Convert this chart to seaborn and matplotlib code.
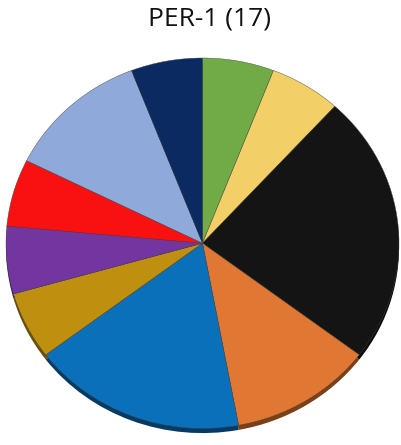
import matplotlib
matplotlib.use("Agg")
import matplotlib.pyplot as plt
import seaborn as sns
import pandas as pd

categories = ["Green", "Yellow", "Black", "Orange", "Blue", "Gold", "Purple", "Red", "Light blue", "Navy"]
counts = [1, 1, 4, 2, 3, 1, 1, 1, 2, 1]
colors = ["#70AB46", "#F3CF68", "#141414", "#E07833", "#0A70BA", "#BF9010", "#7335A0", "#F91010", "#8FAADA", "#0B2A62"]
shadow_colors = ["#3E6227", "#8A7538", "#0A0A0A", "#7A4018", "#053A64", "#6A500A", "#3E1C58", "#8A0808", "#4E6078", "#061630"]
title = "PER-1 (17)"

sns.set_theme(style="white")
plt.rcParams['font.family'] = ['Open Sans', 'DejaVu Sans']

df = pd.DataFrame({"category": categories, "count": counts, "color": colors, "shadow": shadow_colors})

fig = plt.figure(figsize=(4.01, 4.45), dpi=100)
W, H = 401, 445
left, right, top, bottom = 6, 399, 58, 434
ax = fig.add_axes([left / W, 1 - bottom / H, (right - left) / W, (bottom - top) / H])

# shadow edge (slightly offset)
ax.pie(df["count"], colors=df["shadow"], startangle=90, counterclock=False,
       center=(0, -0.025), radius=1.0, wedgeprops=dict(linewidth=0))
ax.pie(df["count"], colors=df["color"], startangle=90, counterclock=False,
       center=(0, 0), radius=1.0, wedgeprops=dict(linewidth=0.3, edgecolor="#444444"))
ax.set_aspect("auto")
ax.set_xlim(-1.0, 1.0)
ax.set_ylim(-1.03, 1.0)
ax.axis("off")

fig.text(210 / W, 1 - 19 / H, title, ha="center", va="center", fontsize=19, color="#111111")

fig.savefig("out.png", dpi=100)
